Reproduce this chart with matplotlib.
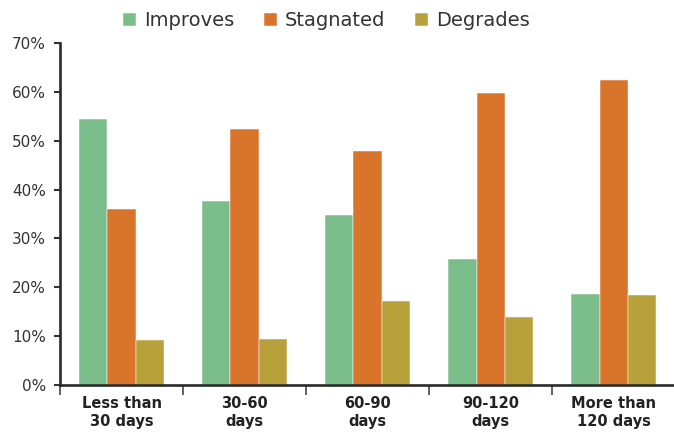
import matplotlib
matplotlib.use("Agg")
import matplotlib.pyplot as plt
import numpy as np

categories = ["Less than\n30 days", "30-60\ndays", "60-90\ndays", "90-120\ndays", "More than\n120 days"]
series_names = ["Improves", "Stagnated", "Degrades"]
improves = [54.4, 37.6, 34.7, 25.7, 18.7]
stagnated = [36.1, 52.3, 47.8, 59.7, 62.4]
degrades = [9.2, 9.4, 17.2, 14.0, 18.5]
yticks = [0, 10, 20, 30, 40, 50, 60, 70]

colors = ["#7BBE8C", "#D9742B", "#B8A13A"]
text_color = "#333333"

plt.rcParams["font.family"] = ["DejaVu Sans"]

fig = plt.figure(figsize=(6.74, 4.32), dpi=100)
ax = fig.add_axes([60 / 674, 1 - 385 / 432, 1 - 60 / 674, (385 - 43) / 432])

x = np.arange(len(categories))
width = 0.23
for i, (vals, name, c) in enumerate(zip([improves, stagnated, degrades], series_names, colors)):
    ax.bar(x + (i - 1) * width, vals, width, color=c, label=name,
           edgecolor="white", linewidth=0.35, zorder=2)

ax.set_xlim(-0.5, 4.49)
ax.set_ylim(0, 70)

ax.set_yticks(yticks)
ax.set_yticklabels([f"{v}%" for v in yticks], color=text_color, fontsize=11)
ax.tick_params(axis="y", length=4, width=1.5, color="#333333", pad=6)

# category boundaries as major ticks, labels at group centres
ax.set_xticks(np.arange(-0.5, 4.5, 1.0))
ax.set_xticklabels([])
ax.tick_params(axis="x", which="major", length=7, width=1.3, color="#555555", direction="out")
ax.set_xticks(x, minor=True)
ax.set_xticklabels(categories, minor=True, fontsize=10.5, fontweight="semibold",
                   color="#222222", linespacing=1.25)
ax.tick_params(axis="x", which="minor", length=0, pad=8)

for s in ["top", "right"]:
    ax.spines[s].set_visible(False)
for s in ["left", "bottom"]:
    ax.spines[s].set_linewidth(1.9)
    ax.spines[s].set_color("#2a2a2a")

handles, labels = ax.get_legend_handles_labels()
fig.legend(handles, labels, loc="center", bbox_to_anchor=(0.484, 0.952), ncol=3,
           frameon=False, fontsize=14, handlelength=0.7, handleheight=0.7,
           handletextpad=0.4, columnspacing=1.5, labelcolor=text_color)

fig.savefig("out.png", dpi=100)
